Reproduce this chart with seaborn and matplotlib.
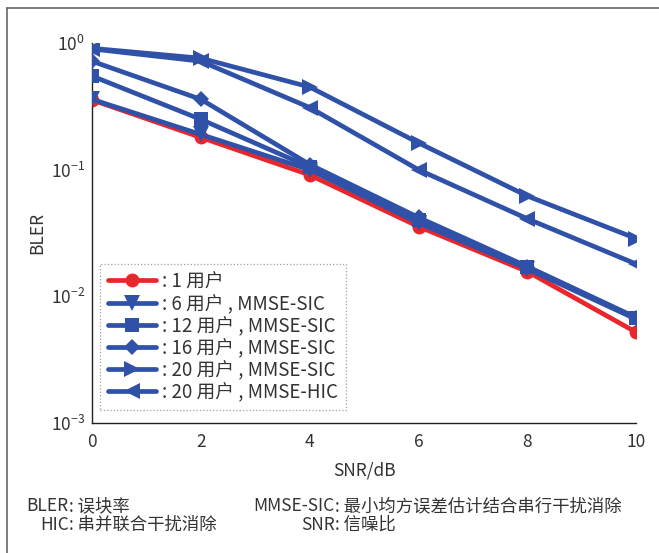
import numpy as np
import pandas as pd
import seaborn as sns
import matplotlib.pyplot as plt
from matplotlib.lines import Line2D

snr = [0, 2, 4, 6, 8, 10]
bler_1u = [0.356, 0.18, 0.091, 0.0356, 0.0157, 0.0052]
bler_6u_sic = [0.36, 0.19, 0.100, 0.038, 0.0165, 0.0066]
bler_12u_sic = [0.55, 0.25, 0.105, 0.040, 0.0170, 0.0067]
bler_16u_sic = [0.72, 0.36, 0.110, 0.042, 0.0172, 0.0068]
bler_20u_sic = [0.91, 0.76, 0.450, 0.163, 0.062, 0.0286]
bler_20u_hic = [0.90, 0.72, 0.310, 0.100, 0.041, 0.018]

labels = [": 1 用户", ": 6 用户 , MMSE-SIC", ": 12 用户 , MMSE-SIC",
          ": 16 用户 , MMSE-SIC", ": 20 用户 , MMSE-SIC", ": 20 用户 , MMSE-HIC"]
series = [bler_1u, bler_6u_sic, bler_12u_sic, bler_16u_sic, bler_20u_sic, bler_20u_hic]

RED = "#e8262c"
BLUE = "#2f52a8"
colors = [RED, BLUE, BLUE, BLUE, BLUE, BLUE]
markers = ["o", "v", "s", "D", ">", "<"]
msizes = [10, 11, 10, 8, 11, 11]

rows = []
for lab, vals in zip(labels, series):
    for x, y in zip(snr, vals):
        rows.append({"SNR": x, "BLER": y, "curve": lab})
df = pd.DataFrame(rows)

sns.set_style("white")
plt.rcParams["font.family"] = ["Noto Sans CJK SC", "DejaVu Sans"]
plt.rcParams["axes.unicode_minus"] = False
plt.rcParams["mathtext.fontset"] = "custom"
plt.rcParams["mathtext.rm"] = "Noto Sans"
plt.rcParams["mathtext.it"] = "Noto Sans:italic"
plt.rcParams["mathtext.bf"] = "Noto Sans:bold"

fig = plt.figure(figsize=(6.59, 5.53), dpi=100)
ax = fig.add_axes([0.1396, 0.235, 0.826, 0.687])

for lab, c, m, ms in zip(labels, colors, markers, msizes):
    sub = df[df["curve"] == lab]
    sns.lineplot(data=sub, x="SNR", y="BLER", ax=ax, color=c, marker=m,
                 markersize=ms, linewidth=3.4, markeredgewidth=0, legend=False,
                 zorder=2 if c == RED else 3)

ax.set_yscale("log")
ax.set_xlim(0, 10)
ax.set_ylim(1e-3, 1)
ax.set_xticks(snr)
ax.set_yticks([1e-3, 1e-2, 1e-1, 1])
ax.minorticks_off()
tc = "#333333"
ax.tick_params(direction="in", length=5, width=0.8, labelsize=12.5, colors=tc, pad=5)
ax.tick_params(axis="x", pad=7)
ax.set_xlabel("SNR/dB", fontsize=12.5, color=tc, labelpad=8)
ax.set_ylabel("BLER", fontsize=12.5, color=tc, labelpad=3)
sns.despine(ax=ax)
for sp in ["left", "bottom"]:
    ax.spines[sp].set_color("#222222")
    ax.spines[sp].set_linewidth(1.0)

handles = [Line2D([], [], color=c, marker=m, markersize=ms, linewidth=3.4,
                  markeredgewidth=0) for c, m, ms in zip(colors, markers, msizes)]
leg = ax.legend(handles, labels, loc="lower left", bbox_to_anchor=(0.015, 0.034),
                fontsize=13.5, frameon=True, fancybox=False, handlelength=2.6,
                handletextpad=0.3, labelspacing=0.06, borderpad=0.4,
                borderaxespad=0)
for t in leg.get_texts():
    t.set_color(tc)
fr = leg.get_frame()
fr.set_edgecolor("#888888")
fr.set_linestyle(":")
fr.set_linewidth(0.9)

# footnote
fs = 12.5
fig.text(0.104, 0.085, "BLER", ha="right", va="center", fontsize=fs, color=tc)
fig.text(0.104, 0.085, ": 误块率", ha="left", va="center", fontsize=fs, color=tc)
fig.text(0.104, 0.051, "HIC", ha="right", va="center", fontsize=fs, color=tc)
fig.text(0.104, 0.051, ": 串并联合干扰消除", ha="left", va="center", fontsize=fs, color=tc)
fig.text(0.508, 0.085, "MMSE-SIC", ha="right", va="center", fontsize=fs, color=tc)
fig.text(0.508, 0.085, ": 最小均方误差估计结合串行干扰消除", ha="left", va="center",
         fontsize=fs, color=tc)
fig.text(0.508, 0.051, "SNR", ha="right", va="center", fontsize=fs, color=tc)
fig.text(0.508, 0.051, ": 信噪比", ha="left", va="center", fontsize=fs, color=tc)

# outer frame (top and left only)
fig.add_artist(Line2D([0.011, 1.0], [0.986, 0.986], color="#666666", linewidth=1.2,
                      transform=fig.transFigure))
fig.add_artist(Line2D([0.011, 0.011], [0.0, 0.986], color="#666666", linewidth=1.2,
                      transform=fig.transFigure))

fig.savefig("out.png", dpi=100)
